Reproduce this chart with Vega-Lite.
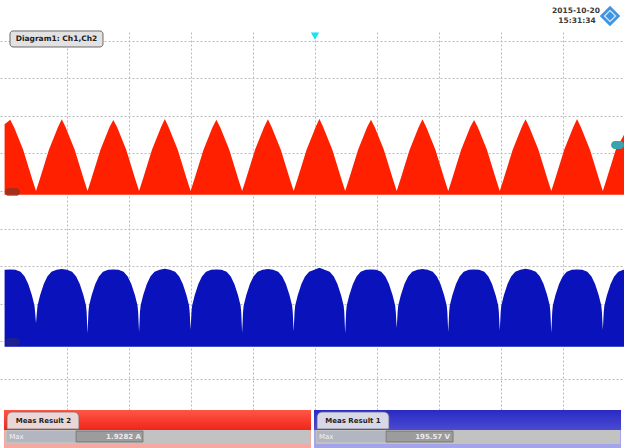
{
  "$schema": "https://vega.github.io/schema/vega-lite/v6.json",
  "width": 624,
  "height": 448,
  "autosize": {"type": "fit", "contains": "padding"},
  "padding": 0,
  "background": "#ffffff",
  "config": {
    "view": {"stroke": null},
    "axis": {
      "labels": false, "ticks": false, "domain": false, "grid": false,
      "gridDash": [2, 2], "gridColor": "#bababa", "gridWidth": 1, "zindex": 1
    }
  },
  "datasets": {
    "ch2": [
      {"t": -50.0, "i": 1.78}, {"t": -49.09, "i": 1.9}, {"t": -48.47, "i": 1.7}, {"t": -47.01, "i": 1.1}, {"t": -45.56, "i": 0.32},
      {"t": -44.94, "i": 0}, {"t": -44.32, "i": 0.32}, {"t": -42.86, "i": 1.1}, {"t": -41.41, "i": 1.7}, {"t": -40.79, "i": 1.91},
      {"t": -40.17, "i": 1.7}, {"t": -38.71, "i": 1.1}, {"t": -37.26, "i": 0.32}, {"t": -36.64, "i": 0}, {"t": -36.02, "i": 0.32},
      {"t": -34.56, "i": 1.1}, {"t": -33.11, "i": 1.7}, {"t": -32.49, "i": 1.89}, {"t": -31.87, "i": 1.7}, {"t": -30.41, "i": 1.1},
      {"t": -28.96, "i": 0.32}, {"t": -28.34, "i": 0}, {"t": -27.72, "i": 0.32}, {"t": -26.26, "i": 1.1}, {"t": -24.81, "i": 1.7},
      {"t": -24.19, "i": 1.92}, {"t": -23.57, "i": 1.7}, {"t": -22.11, "i": 1.1}, {"t": -20.66, "i": 0.32}, {"t": -20.04, "i": 0},
      {"t": -19.42, "i": 0.32}, {"t": -17.96, "i": 1.1}, {"t": -16.51, "i": 1.7}, {"t": -15.89, "i": 1.9}, {"t": -15.27, "i": 1.7},
      {"t": -13.81, "i": 1.1}, {"t": -12.36, "i": 0.32}, {"t": -11.74, "i": 0}, {"t": -11.12, "i": 0.32}, {"t": -9.66, "i": 1.1},
      {"t": -8.21, "i": 1.7}, {"t": -7.59, "i": 1.91}, {"t": -6.97, "i": 1.7}, {"t": -5.51, "i": 1.1}, {"t": -4.06, "i": 0.32},
      {"t": -3.44, "i": 0}, {"t": -2.82, "i": 0.32}, {"t": -1.36, "i": 1.1}, {"t": 0.09, "i": 1.7}, {"t": 0.71, "i": 1.9282},
      {"t": 1.33, "i": 1.7}, {"t": 2.79, "i": 1.1}, {"t": 4.24, "i": 0.32}, {"t": 4.86, "i": 0}, {"t": 5.48, "i": 0.32},
      {"t": 6.94, "i": 1.1}, {"t": 8.39, "i": 1.7}, {"t": 9.01, "i": 1.9}, {"t": 9.63, "i": 1.7}, {"t": 11.09, "i": 1.1},
      {"t": 12.54, "i": 0.32}, {"t": 13.16, "i": 0}, {"t": 13.78, "i": 0.32}, {"t": 15.24, "i": 1.1}, {"t": 16.69, "i": 1.7},
      {"t": 17.31, "i": 1.91}, {"t": 17.93, "i": 1.7}, {"t": 19.39, "i": 1.1}, {"t": 20.84, "i": 0.32}, {"t": 21.46, "i": 0},
      {"t": 22.08, "i": 0.32}, {"t": 23.54, "i": 1.1}, {"t": 24.99, "i": 1.7}, {"t": 25.61, "i": 1.89}, {"t": 26.23, "i": 1.7},
      {"t": 27.69, "i": 1.1}, {"t": 29.14, "i": 0.32}, {"t": 29.76, "i": 0}, {"t": 30.38, "i": 0.32}, {"t": 31.84, "i": 1.1},
      {"t": 33.29, "i": 1.7}, {"t": 33.91, "i": 1.91}, {"t": 34.53, "i": 1.7}, {"t": 35.99, "i": 1.1}, {"t": 37.44, "i": 0.32},
      {"t": 38.06, "i": 0}, {"t": 38.68, "i": 0.32}, {"t": 40.14, "i": 1.1}, {"t": 41.59, "i": 1.7}, {"t": 42.21, "i": 1.92},
      {"t": 42.83, "i": 1.7}, {"t": 44.29, "i": 1.1}, {"t": 45.74, "i": 0.32}, {"t": 46.36, "i": 0}, {"t": 46.98, "i": 0.32},
      {"t": 48.44, "i": 1.1}, {"t": 49.77, "i": 1.5}
    ],
    "ch1": [
      {"t": -50.0, "v": 190}, {"t": -49.09, "v": 191}, {"t": -48.26, "v": 190}, {"t": -47.43, "v": 185}, {"t": -46.77, "v": 172},
      {"t": -46.19, "v": 152}, {"t": -45.6, "v": 122}, {"t": -45.19, "v": 95}, {"t": -45.09, "v": 78}, {"t": -44.94, "v": 48},
      {"t": -44.79, "v": 78}, {"t": -44.69, "v": 95}, {"t": -44.28, "v": 122}, {"t": -43.69, "v": 152}, {"t": -43.11, "v": 172},
      {"t": -42.45, "v": 185}, {"t": -41.62, "v": 190}, {"t": -40.79, "v": 192}, {"t": -39.96, "v": 190}, {"t": -39.13, "v": 185},
      {"t": -38.47, "v": 172}, {"t": -37.89, "v": 152}, {"t": -37.3, "v": 122}, {"t": -36.89, "v": 95}, {"t": -36.79, "v": 78},
      {"t": -36.64, "v": 21},
      {"t": -36.49, "v": 78}, {"t": -36.39, "v": 95}, {"t": -35.98, "v": 122}, {"t": -35.39, "v": 152}, {"t": -34.81, "v": 172},
      {"t": -34.15, "v": 185}, {"t": -33.32, "v": 190}, {"t": -32.49, "v": 191}, {"t": -31.66, "v": 190}, {"t": -30.83, "v": 185},
      {"t": -30.17, "v": 172}, {"t": -29.59, "v": 152}, {"t": -29.0, "v": 122}, {"t": -28.59, "v": 95}, {"t": -28.49, "v": 78},
      {"t": -28.34, "v": 24},
      {"t": -28.19, "v": 78}, {"t": -28.09, "v": 95}, {"t": -27.68, "v": 122}, {"t": -27.09, "v": 152}, {"t": -26.51, "v": 172},
      {"t": -25.85, "v": 185}, {"t": -25.02, "v": 190}, {"t": -24.19, "v": 193}, {"t": -23.36, "v": 190}, {"t": -22.53, "v": 185},
      {"t": -21.87, "v": 172}, {"t": -21.29, "v": 152}, {"t": -20.7, "v": 122}, {"t": -20.29, "v": 95}, {"t": -20.19, "v": 78},
      {"t": -20.04, "v": 30},
      {"t": -19.89, "v": 78}, {"t": -19.79, "v": 95}, {"t": -19.38, "v": 122}, {"t": -18.79, "v": 152}, {"t": -18.21, "v": 172},
      {"t": -17.55, "v": 185}, {"t": -16.72, "v": 190}, {"t": -15.89, "v": 191}, {"t": -15.06, "v": 190}, {"t": -14.23, "v": 185},
      {"t": -13.57, "v": 172}, {"t": -12.99, "v": 152}, {"t": -12.4, "v": 122}, {"t": -11.99, "v": 95}, {"t": -11.89, "v": 78},
      {"t": -11.74, "v": 22},
      {"t": -11.59, "v": 78}, {"t": -11.49, "v": 95}, {"t": -11.08, "v": 122}, {"t": -10.49, "v": 152}, {"t": -9.91, "v": 172},
      {"t": -9.25, "v": 185}, {"t": -8.42, "v": 190}, {"t": -7.59, "v": 192}, {"t": -6.76, "v": 190}, {"t": -5.93, "v": 185},
      {"t": -5.27, "v": 172}, {"t": -4.69, "v": 152}, {"t": -4.1, "v": 122}, {"t": -3.69, "v": 95}, {"t": -3.59, "v": 78},
      {"t": -3.44, "v": 26},
      {"t": -3.29, "v": 78}, {"t": -3.19, "v": 95}, {"t": -2.78, "v": 122}, {"t": -2.19, "v": 152}, {"t": -1.61, "v": 172},
      {"t": -0.95, "v": 185}, {"t": -0.12, "v": 190}, {"t": 0.71, "v": 195.57}, {"t": 1.54, "v": 190}, {"t": 2.37, "v": 185},
      {"t": 3.03, "v": 172}, {"t": 3.61, "v": 152}, {"t": 4.2, "v": 122}, {"t": 4.61, "v": 95}, {"t": 4.71, "v": 78},
      {"t": 4.86, "v": 21},
      {"t": 5.01, "v": 78}, {"t": 5.11, "v": 95}, {"t": 5.52, "v": 122}, {"t": 6.11, "v": 152}, {"t": 6.69, "v": 172},
      {"t": 7.35, "v": 185}, {"t": 8.18, "v": 190}, {"t": 9.01, "v": 191}, {"t": 9.84, "v": 190}, {"t": 10.67, "v": 185},
      {"t": 11.33, "v": 172}, {"t": 11.91, "v": 152}, {"t": 12.5, "v": 122}, {"t": 12.91, "v": 95}, {"t": 13.01, "v": 78},
      {"t": 13.16, "v": 35},
      {"t": 13.31, "v": 78}, {"t": 13.41, "v": 95}, {"t": 13.82, "v": 122}, {"t": 14.41, "v": 152}, {"t": 14.99, "v": 172},
      {"t": 15.65, "v": 185}, {"t": 16.48, "v": 190}, {"t": 17.31, "v": 192}, {"t": 18.14, "v": 190}, {"t": 18.97, "v": 185},
      {"t": 19.63, "v": 172}, {"t": 20.21, "v": 152}, {"t": 20.8, "v": 122}, {"t": 21.21, "v": 95}, {"t": 21.31, "v": 78},
      {"t": 21.46, "v": 24},
      {"t": 21.61, "v": 78}, {"t": 21.71, "v": 95}, {"t": 22.12, "v": 122}, {"t": 22.71, "v": 152}, {"t": 23.29, "v": 172},
      {"t": 23.95, "v": 185}, {"t": 24.78, "v": 190}, {"t": 25.61, "v": 191}, {"t": 26.44, "v": 190}, {"t": 27.27, "v": 185},
      {"t": 27.93, "v": 172}, {"t": 28.51, "v": 152}, {"t": 29.1, "v": 122}, {"t": 29.51, "v": 95}, {"t": 29.61, "v": 78},
      {"t": 29.76, "v": 28},
      {"t": 29.91, "v": 78}, {"t": 30.01, "v": 95}, {"t": 30.42, "v": 122}, {"t": 31.01, "v": 152}, {"t": 31.59, "v": 172},
      {"t": 32.25, "v": 185}, {"t": 33.08, "v": 190}, {"t": 33.91, "v": 193}, {"t": 34.74, "v": 190}, {"t": 35.57, "v": 185},
      {"t": 36.23, "v": 172}, {"t": 36.81, "v": 152}, {"t": 37.4, "v": 122}, {"t": 37.81, "v": 95}, {"t": 37.91, "v": 78},
      {"t": 38.06, "v": 22},
      {"t": 38.21, "v": 78}, {"t": 38.31, "v": 95}, {"t": 38.72, "v": 122}, {"t": 39.31, "v": 152}, {"t": 39.89, "v": 172},
      {"t": 40.55, "v": 185}, {"t": 41.38, "v": 190}, {"t": 42.21, "v": 191}, {"t": 43.04, "v": 190}, {"t": 43.87, "v": 185},
      {"t": 44.53, "v": 172}, {"t": 45.11, "v": 152}, {"t": 45.7, "v": 122}, {"t": 46.11, "v": 95}, {"t": 46.21, "v": 78},
      {"t": 46.36, "v": 30},
      {"t": 46.51, "v": 78}, {"t": 46.61, "v": 95}, {"t": 47.02, "v": 122}, {"t": 47.61, "v": 152}, {"t": 48.19, "v": 172},
      {"t": 48.85, "v": 185}, {"t": 49.68, "v": 190}, {"t": 49.77, "v": 190}
    ]
  },
  "layer": [
    {
      "data": {"name": "ch2"},
      "mark": {"type": "area", "color": "#ff2000", "interpolate": "linear"},
      "encoding": {
        "x": {"field": "t", "type": "quantitative", "title": null,
              "scale": {"domain": [-50.74, 49.77], "nice": false, "zero": false},
              "axis": {"values": [-40, -30, -20, -10, 0, 10, 20, 30, 40], "title": null, "grid": true}},
        "y": {"field": "i", "type": "quantitative", "title": null,
              "scale": {"domain": [-6.853, 5.093], "nice": false, "zero": false}, "axis": null},
        "y2": {"datum": -0.1}
      }
    },
    {
      "data": {"name": "ch1"},
      "mark": {"type": "area", "color": "#0a12bc", "interpolate": "linear"},
      "encoding": {
        "x": {"field": "t", "type": "quantitative", "title": null},
        "y": {"field": "v", "type": "quantitative", "title": null,
              "scale": {"domain": [-285.3, 909.3], "nice": false, "zero": false}, "axis": null},
        "y2": {"datum": -15}
      }
    },
    {
      "data": {"values": [{}]},
      "layer": [
        {
          "mark": {"type": "rect", "fill": "#ffffff", "zindex": 2},
          "encoding": {
            "x": {"datum": -50.74, "type": "quantitative", "title": null},
            "x2": {"datum": 49.77},
            "y": {"datum": 11.093, "type": "quantitative", "title": null,
                  "scale": {"domain": [-0.853, 11.093], "nice": false, "zero": false},
                  "axis": {"values": [1, 2, 3, 4, 5, 6, 7, 8, 9, 10], "title": null, "grid": true}},
            "y2": {"datum": 10.24}
          }
        },
        {
          "mark": {"type": "rect", "fill": "#e2e2e2", "stroke": "#6a6a6a", "strokeWidth": 1, "cornerRadius": 3, "zindex": 3},
          "encoding": {
            "x": {"datum": -49.13, "type": "quantitative", "title": null}, "x2": {"datum": -34.15},
            "y": {"datum": 10.267, "type": "quantitative", "title": null}, "y2": {"datum": 9.84}
          }
        },
        {
          "mark": {"type": "text", "text": "Diagram1: Ch1,Ch2", "font": "DejaVu Sans", "fontWeight": "bold", "fontSize": 7.5,
                   "color": "#202020", "align": "center", "baseline": "middle", "zindex": 3},
          "encoding": {
            "x": {"datum": -41.64, "type": "quantitative", "title": null},
            "y": {"datum": 10.04, "type": "quantitative", "title": null}
          }
        },
        {
          "mark": {"type": "text", "text": "2015-10-20", "font": "DejaVu Sans", "fontWeight": "bold", "fontSize": 7.5,
                   "color": "#3a3a3a", "align": "center", "baseline": "middle", "zindex": 3},
          "encoding": {
            "x": {"datum": 42.04, "type": "quantitative", "title": null},
            "y": {"datum": 10.8, "type": "quantitative", "title": null}
          }
        },
        {
          "mark": {"type": "text", "text": "15:31:34", "font": "DejaVu Sans", "fontWeight": "bold", "fontSize": 7.5,
                   "color": "#3a3a3a", "align": "center", "baseline": "middle", "zindex": 3},
          "encoding": {
            "x": {"datum": 42.2, "type": "quantitative", "title": null},
            "y": {"datum": 10.533, "type": "quantitative", "title": null}
          }
        },
        {
          "mark": {"type": "point", "shape": "diamond", "filled": true, "color": "#3d94e0", "size": 420, "opacity": 1, "zindex": 3},
          "encoding": {
            "x": {"datum": 47.52, "type": "quantitative", "title": null},
            "y": {"datum": 10.667, "type": "quantitative", "title": null}
          }
        },
        {
          "mark": {"type": "point", "shape": "diamond", "filled": false, "stroke": "#ffffff", "strokeWidth": 1.5, "size": 120, "zindex": 3},
          "encoding": {
            "x": {"datum": 47.52, "type": "quantitative", "title": null},
            "y": {"datum": 10.667, "type": "quantitative", "title": null}
          }
        },
        {
          "mark": {"type": "point", "shape": "triangle-down", "filled": true, "color": "#14e4f4", "size": 70, "opacity": 1, "zindex": 3},
          "encoding": {
            "x": {"datum": 0, "type": "quantitative", "title": null},
            "y": {"datum": 10.13, "type": "quantitative", "title": null}
          }
        },
        {
          "mark": {"type": "rect", "fill": "#9a3020", "opacity": 0.85, "cornerRadius": 4, "zindex": 2},
          "encoding": {
            "x": {"datum": -49.94, "type": "quantitative", "title": null}, "x2": {"datum": -47.52},
            "y": {"datum": 6.08, "type": "quantitative", "title": null}, "y2": {"datum": 5.87}
          }
        },
        {
          "mark": {"type": "rect", "fill": "#22228a", "opacity": 0.85, "cornerRadius": 4, "zindex": 2},
          "encoding": {
            "x": {"datum": -49.94, "type": "quantitative", "title": null}, "x2": {"datum": -47.52},
            "y": {"datum": 2.08, "type": "quantitative", "title": null}, "y2": {"datum": 1.867}
          }
        },
        {
          "mark": {"type": "rect", "fill": "#3aa2aa", "cornerRadius": 4, "zindex": 2},
          "encoding": {
            "x": {"datum": 47.68, "type": "quantitative", "title": null}, "x2": {"datum": 49.77},
            "y": {"datum": 7.333, "type": "quantitative", "title": null}, "y2": {"datum": 7.12}
          }
        },
        {
          "mark": {"type": "rect", "zindex": 2,
                   "fill": {"gradient": "linear", "x1": 0, "y1": 0, "x2": 0, "y2": 1,
                            "stops": [{"offset": 0, "color": "#ff5646"}, {"offset": 0.52, "color": "#f0261a"},
                                      {"offset": 0.53, "color": "#f4aaa2"}, {"offset": 1, "color": "#f4aaa2"}]}},
          "encoding": {
            "x": {"datum": -50.1, "type": "quantitative", "title": null}, "x2": {"datum": -0.64},
            "y": {"datum": 0.16, "type": "quantitative", "title": null}, "y2": {"datum": -0.853}
          }
        },
        {
          "mark": {"type": "rect", "fill": "#c2c2c2", "zindex": 2},
          "encoding": {
            "x": {"datum": -49.78, "type": "quantitative", "title": null}, "x2": {"datum": -0.81},
            "y": {"datum": -0.373, "type": "quantitative", "title": null}, "y2": {"datum": -0.746}
          }
        },
        {
          "mark": {"type": "rect", "fill": "#b2b6c0", "zindex": 2},
          "encoding": {
            "x": {"datum": -49.61, "type": "quantitative", "title": null}, "x2": {"datum": -38.66},
            "y": {"datum": -0.4, "type": "quantitative", "title": null}, "y2": {"datum": -0.693}
          }
        },
        {
          "mark": {"type": "rect", "fill": "#9c9c9c", "stroke": "#6e6e6e", "strokeWidth": 0.8, "zindex": 2},
          "encoding": {
            "x": {"datum": -38.5, "type": "quantitative", "title": null}, "x2": {"datum": -27.71},
            "y": {"datum": -0.4, "type": "quantitative", "title": null}, "y2": {"datum": -0.693}
          }
        },
        {
          "mark": {"type": "rect", "fill": "#ead6d6", "stroke": "#8a6464", "strokeWidth": 0.8,
                   "cornerRadiusTopLeft": 5, "cornerRadiusTopRight": 5, "zindex": 2},
          "encoding": {
            "x": {"datum": -49.61, "type": "quantitative", "title": null}, "x2": {"datum": -38.02},
            "y": {"datum": 0.107, "type": "quantitative", "title": null}, "y2": {"datum": -0.347}
          }
        },
        {
          "mark": {"type": "text", "text": "Meas Result 2", "font": "DejaVu Sans", "fontWeight": "bold", "fontSize": 7,
                   "color": "#1e1e1e", "align": "center", "baseline": "middle", "zindex": 3},
          "encoding": {
            "x": {"datum": -43.73, "type": "quantitative", "title": null},
            "y": {"datum": -0.133, "type": "quantitative", "title": null}
          }
        },
        {
          "mark": {"type": "text", "text": "Max", "font": "DejaVu Sans", "fontSize": 7,
                   "color": "#f2f2f6", "align": "left", "baseline": "middle", "zindex": 3},
          "encoding": {
            "x": {"datum": -49.26, "type": "quantitative", "title": null},
            "y": {"datum": -0.56, "type": "quantitative", "title": null}
          }
        },
        {
          "mark": {"type": "text", "text": "1.9282 A", "font": "DejaVu Sans", "fontWeight": "bold", "fontSize": 7,
                   "color": "#ececec", "align": "right", "baseline": "middle", "zindex": 3},
          "encoding": {
            "x": {"datum": -28.03, "type": "quantitative", "title": null},
            "y": {"datum": -0.56, "type": "quantitative", "title": null}
          }
        },
        {
          "mark": {"type": "rect", "zindex": 2,
                   "fill": {"gradient": "linear", "x1": 0, "y1": 0, "x2": 0, "y2": 1,
                            "stops": [{"offset": 0, "color": "#2a2ac4"}, {"offset": 0.52, "color": "#4a4ad2"},
                                      {"offset": 0.53, "color": "#a4a4ea"}, {"offset": 1, "color": "#a4a4ea"}]}},
          "encoding": {
            "x": {"datum": -0.16, "type": "quantitative", "title": null}, "x2": {"datum": 49.29},
            "y": {"datum": 0.16, "type": "quantitative", "title": null}, "y2": {"datum": -0.853}
          }
        },
        {
          "mark": {"type": "rect", "fill": "#c2c2c2", "zindex": 2},
          "encoding": {
            "x": {"datum": 0.16, "type": "quantitative", "title": null}, "x2": {"datum": 49.13},
            "y": {"datum": -0.373, "type": "quantitative", "title": null}, "y2": {"datum": -0.746}
          }
        },
        {
          "mark": {"type": "rect", "fill": "#b2b6c0", "zindex": 2},
          "encoding": {
            "x": {"datum": 0.32, "type": "quantitative", "title": null}, "x2": {"datum": 11.28},
            "y": {"datum": -0.4, "type": "quantitative", "title": null}, "y2": {"datum": -0.693}
          }
        },
        {
          "mark": {"type": "rect", "fill": "#9c9c9c", "stroke": "#6e6e6e", "strokeWidth": 0.8, "zindex": 2},
          "encoding": {
            "x": {"datum": 11.44, "type": "quantitative", "title": null}, "x2": {"datum": 22.23},
            "y": {"datum": -0.4, "type": "quantitative", "title": null}, "y2": {"datum": -0.693}
          }
        },
        {
          "mark": {"type": "rect", "fill": "#d8d8e6", "stroke": "#64648a", "strokeWidth": 0.8,
                   "cornerRadiusTopLeft": 5, "cornerRadiusTopRight": 5, "zindex": 2},
          "encoding": {
            "x": {"datum": 0.32, "type": "quantitative", "title": null}, "x2": {"datum": 11.92},
            "y": {"datum": 0.107, "type": "quantitative", "title": null}, "y2": {"datum": -0.347}
          }
        },
        {
          "mark": {"type": "text", "text": "Meas Result 1", "font": "DejaVu Sans", "fontWeight": "bold", "fontSize": 7,
                   "color": "#1e1e1e", "align": "center", "baseline": "middle", "zindex": 3},
          "encoding": {
            "x": {"datum": 6.12, "type": "quantitative", "title": null},
            "y": {"datum": -0.133, "type": "quantitative", "title": null}
          }
        },
        {
          "mark": {"type": "text", "text": "Max", "font": "DejaVu Sans", "fontSize": 7,
                   "color": "#f2f2f6", "align": "left", "baseline": "middle", "zindex": 3},
          "encoding": {
            "x": {"datum": 0.64, "type": "quantitative", "title": null},
            "y": {"datum": -0.56, "type": "quantitative", "title": null}
          }
        },
        {
          "mark": {"type": "text", "text": "195.57 V", "font": "DejaVu Sans", "fontWeight": "bold", "fontSize": 7,
                   "color": "#ececec", "align": "right", "baseline": "middle", "zindex": 3},
          "encoding": {
            "x": {"datum": 21.75, "type": "quantitative", "title": null},
            "y": {"datum": -0.56, "type": "quantitative", "title": null}
          }
        }
      ]
    }
  ],
  "resolve": {"scale": {"y": "independent"}}
}
